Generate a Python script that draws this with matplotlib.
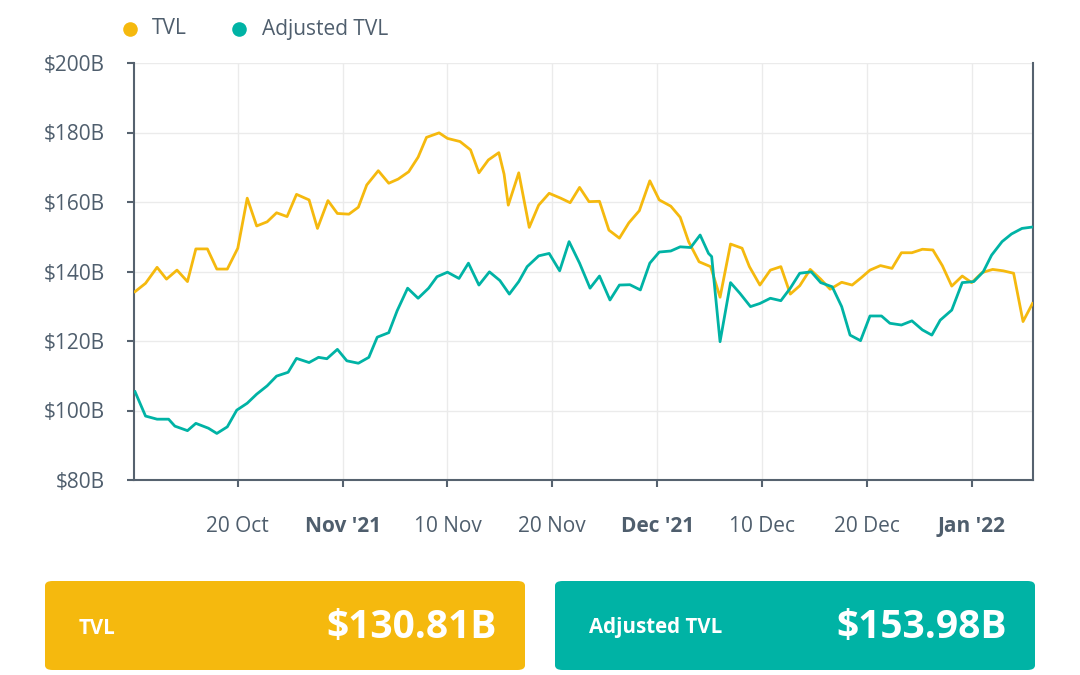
import matplotlib

matplotlib.use("Agg")
import matplotlib.pyplot as plt
from matplotlib.lines import Line2D
from matplotlib.patches import FancyBboxPatch

# x = chart position in days (tick every 10: 20 Oct, Nov '21, 10 Nov ...)
tvl_x = [0.2, 1.2, 2.3, 3.2, 4.2, 5.2, 6.0, 7.1, 8.0, 9.0, 10.0, 10.9, 11.8, 12.8,
         13.7, 14.7, 15.6, 16.8, 17.6, 18.6, 19.5, 20.6, 21.5, 22.3, 23.4, 24.4,
         25.3, 26.3, 27.2, 28.0, 29.2, 30.0, 31.2, 32.2, 33.0, 33.9, 34.9, 35.4,
         35.8, 36.8, 37.8, 38.7, 39.7, 40.8, 41.7, 42.6, 43.5, 44.5, 45.4, 46.4,
         47.3, 48.3, 49.3, 50.2, 51.3, 52.2, 53.0, 54.0, 55.1, 56.0, 57.0, 58.1,
         58.8, 59.8, 60.8, 61.8, 62.7, 63.6, 64.6, 65.6, 66.5, 67.6, 68.6, 69.5,
         70.3, 71.3, 72.4, 73.3, 74.3, 75.3, 76.3, 77.2, 78.1, 79.1, 80.0, 81.0,
         82.0, 83.0, 84.0, 84.9, 85.8]
tvl_y = [134.2, 136.6, 141.2, 137.8, 140.4, 137.1, 146.5, 146.5, 140.7, 140.7, 146.7,
         161.1, 153.1, 154.3, 156.9, 155.8, 162.2, 160.6, 152.4, 160.4, 156.7, 156.5,
         158.5, 164.9, 169.0, 165.4, 166.6, 168.7, 172.9, 178.6, 179.9, 178.3, 177.4,
         175.0, 168.4, 172.1, 174.2, 168.0, 159.1, 168.4, 152.7, 159.1, 162.5, 161.1,
         159.8, 164.2, 160.1, 160.2, 151.9, 149.6, 154.0, 157.5, 166.1, 160.6, 158.8,
         155.6, 148.6, 142.8, 141.4, 132.6, 147.9, 146.7, 141.4, 136.1, 140.4, 141.4,
         133.5, 135.9, 140.6, 137.8, 134.9, 136.9, 136.1, 138.3, 140.4, 141.7, 140.9,
         145.4, 145.4, 146.4, 146.2, 141.7, 135.8, 138.7, 136.8, 139.7, 140.6, 140.2,
         139.5, 125.6, 130.8]

adj_x = [0.2, 1.2, 2.3, 3.4, 4.0, 5.2, 6.0, 7.2, 8.0, 9.0, 9.9, 10.9, 11.8, 12.8,
         13.7, 14.8, 15.6, 16.8, 17.7, 18.5, 19.5, 20.4, 21.5, 22.5, 23.3, 24.4,
         25.2, 26.2, 27.2, 28.2, 29.0, 30.0, 31.1, 32.0, 33.0, 34.0, 35.0, 35.9,
         36.8, 37.6, 38.7, 39.7, 40.7, 41.6, 42.6, 43.6, 44.5, 45.5, 46.4, 47.4,
         48.4, 49.3, 50.2, 51.3, 52.2, 53.2, 54.1, 54.9, 55.2, 56.0, 57.0, 57.9,
         58.9, 59.8, 60.8, 61.8, 62.7, 63.6, 64.7, 65.6, 66.7, 67.6, 68.4, 69.4,
         70.3, 71.4, 72.2, 73.3, 74.3, 75.3, 76.2, 77.0, 78.1, 79.1, 80.2, 81.1,
         81.9, 82.9, 83.8, 84.8, 85.8]
adj_y = [105.4, 98.4, 97.5, 97.5, 95.5, 94.2, 96.3, 94.9, 93.4, 95.3, 100.1, 102.1,
         104.7, 107.1, 109.9, 111.0, 115.0, 113.8, 115.3, 114.9, 117.6, 114.3, 113.6,
         115.3, 121.1, 122.4, 128.7, 135.2, 132.3, 135.2, 138.5, 139.8, 138.0, 142.4,
         136.1, 139.9, 137.4, 133.5, 137.1, 141.4, 144.5, 145.2, 140.2, 148.6, 142.4,
         135.2, 138.7, 131.8, 136.1, 136.2, 134.7, 142.4, 145.6, 145.9, 147.1, 146.9,
         150.5, 145.2, 144.3, 119.8, 136.8, 133.7, 129.9, 130.8, 132.3, 131.6, 135.2,
         139.5, 139.9, 136.8, 135.6, 129.9, 121.7, 120.1, 127.2, 127.2, 125.1, 124.6,
         125.8, 123.2, 121.7, 126.0, 128.9, 136.8, 137.1, 139.9, 144.7, 148.6, 150.8,
         152.4, 152.8]

tick_pos = [10, 20, 30, 40, 50, 60, 70, 80]
tick_labels = ["20 Oct", "Nov '21", "10 Nov", "20 Nov", "Dec '21", "10 Dec", "20 Dec", "Jan '22"]
y_ticks = [80, 100, 120, 140, 160, 180, 200]

series_names = ["TVL", "Adjusted TVL"]
current_values = ["$130.81B", "$153.98B"]

YELLOW = "#F5B90E"
TEAL = "#00B3A5"
TEXT = "#4F5E6D"
AXIS = "#56626F"
GRID = "#EBEBEB"

plt.rcParams["font.family"] = ["Open Sans", "DejaVu Sans"]

fig = plt.figure(figsize=(10.8, 6.75), dpi=100)
ax = fig.add_axes([134 / 1080, 1 - 480 / 675, (1033 - 134) / 1080, (480 - 63) / 675])

ax.plot(tvl_x, tvl_y, color=YELLOW, linewidth=2.0, solid_joinstyle="round", zorder=3)
ax.plot(adj_x, adj_y, color=TEAL, linewidth=2.0, solid_joinstyle="round", zorder=4)

ax.set_xlim(0.1, 85.85)
ax.set_ylim(80, 200)
ax.set_yticks(y_ticks)
ax.set_yticklabels([f"${v}B" for v in y_ticks])
ax.set_xticks(tick_pos)
ax.set_xticklabels(tick_labels)
for lbl in ax.get_xticklabels():
    if "'" in lbl.get_text():
        lbl.set_fontweight("bold")

ax.grid(True, color=GRID, linewidth=1.0, zorder=0)
ax.set_axisbelow(True)
ax.spines["top"].set_visible(False)
for side in ("left", "bottom", "right"):
    ax.spines[side].set_color(AXIS)
    ax.spines[side].set_linewidth(1.5)
ax.tick_params(axis="y", length=5, width=1.5, color=AXIS, pad=16,
               labelsize=15, labelcolor=TEXT)
ax.tick_params(axis="x", length=5, width=1.5, color=AXIS, pad=21,
               labelsize=15, labelcolor=TEXT)

# legend on top
for cx, tx, name, col in [(130, 152, series_names[0], YELLOW),
                          (239, 262, series_names[1], TEAL)]:
    fig.add_artist(Line2D([cx / 1080], [1 - 29 / 675], marker="o", markersize=10.5,
                          color=col, markeredgewidth=0, transform=fig.transFigure))
    fig.text(tx / 1080, 1 - 29 / 675, name, fontsize=15, color=TEXT,
             ha="left", va="center")

# value cards
for (x0, x1), name, val, col in [((45, 525), series_names[0], current_values[0], YELLOW),
                                 ((555, 1035), series_names[1], current_values[1], TEAL)]:
    box = FancyBboxPatch((x0 / 1080, 1 - 670 / 675), (x1 - x0) / 1080, 89 / 675,
                         boxstyle="round,pad=0,rounding_size=0.007",
                         transform=fig.transFigure, facecolor=col, edgecolor="none")
    fig.patches.append(box)
    fig.text((x0 + 34) / 1080, 1 - 628 / 675, name, fontsize=14.8, fontweight="bold",
             color="white", ha="left", va="center")
    fig.text((x1 - 28) / 1080, 1 - 628 / 675, val, fontsize=28, fontweight="bold",
             color="white", ha="right", va="center")

fig.savefig("out.png", dpi=100)
